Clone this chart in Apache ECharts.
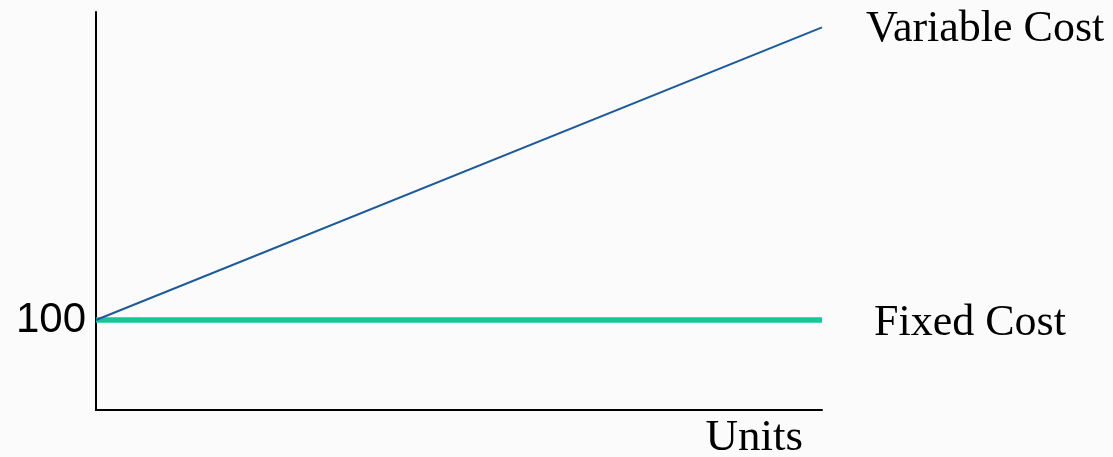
<!DOCTYPE html>
<html><head><meta charset="utf-8">
<script src="https://cdn.jsdelivr.net/npm/echarts@6/dist/echarts.min.js"></script>
<style>html,body{margin:0;padding:0;background:#fbfbfb;}#c{width:1113px;height:457px;}</style>
</head><body><div id="c"></div>
<script>
const units = [0, 10];
const fixedCost = [100, 100];
const variableCost = [100, 425];
const yTickLabels = [100];
const seriesNames = ['Variable Cost', 'Fixed Cost'];
const xAxisName = 'Units';

const chart = echarts.init(document.getElementById('c'));
const serif = '"Liberation Serif", "DejaVu Serif", serif';
chart.setOption({
  backgroundColor: '#fbfbfb',
  animation: false,
  grid: { left: 96, right: 291, top: 12, bottom: 47, outerBoundsMode: 'none', containLabel: false },
  xAxis: {
    type: 'value', min: 0, max: 10,
    axisLine: { show: true, lineStyle: { color: '#000', width: 2 } },
    axisTick: { show: false }, axisLabel: { show: false }, splitLine: { show: false },
    name: xAxisName, nameLocation: 'end', nameGap: -19,
    nameTextStyle: { fontFamily: serif, fontSize: 45, color: '#000', align: 'right', verticalAlign: 'top', padding: [6, 0, 0, 0] }
  },
  yAxis: {
    type: 'value', min: 0, max: 442,
    axisLine: { show: true, lineStyle: { color: '#000', width: 2 } },
    axisTick: { show: false }, splitLine: { show: false },
    axisLabel: {
      customValues: yTickLabels,
      fontFamily: '"Liberation Sans", Arial, sans-serif', fontSize: 42, color: '#000', margin: 10,
      padding: [4, 0, 0, 0]
    }
  },
  series: [
    {
      name: seriesNames[0], type: 'line', symbol: 'none',
      data: units.map((u, i) => [u, variableCost[i]]),
      lineStyle: { color: '#1b5a9c', width: 2 },
      endLabel: { show: true, formatter: '{a}', distance: 44, offset: [0, 2], fontFamily: serif, fontSize: 44, color: '#000' },
      z: 3
    },
    {
      name: seriesNames[1], type: 'line', symbol: 'none',
      data: units.map((u, i) => [u, fixedCost[i]]),
      lineStyle: { color: '#14c896', width: 5.5 },
      endLabel: { show: true, formatter: '{a}', distance: 52, offset: [0, 3], fontFamily: serif, fontSize: 44, color: '#000' },
      z: 2
    }
  ]
});
</script></body></html>
